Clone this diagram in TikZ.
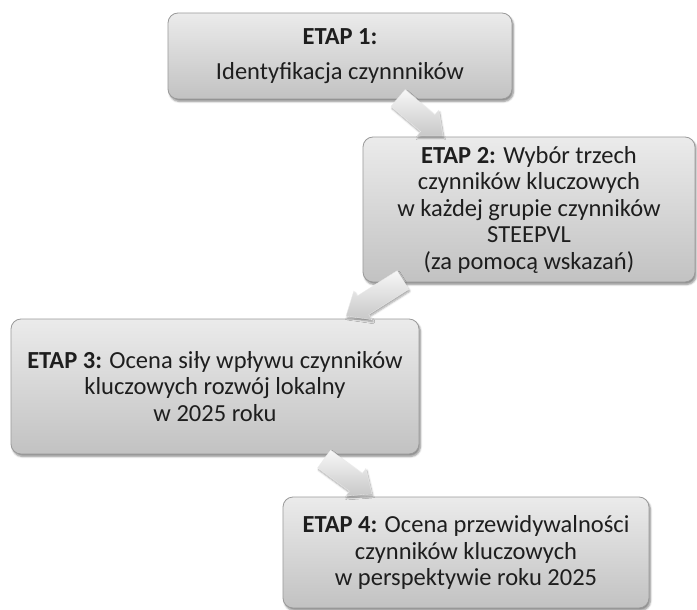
\documentclass[tikz,border=0pt]{standalone}
\usepackage{fontspec}
\setmainfont{Carlito}
\usetikzlibrary{calc,shadows.blur}
\definecolor{txt}{HTML}{1E1E1E}
\definecolor{btop}{HTML}{EBEBEB}
\definecolor{bbot}{HTML}{C2C2C2}
\definecolor{bline}{HTML}{9A9A9A}
\definecolor{atop}{HTML}{F7F7F7}
\definecolor{abot}{HTML}{C8C8C8}
\tikzset{
 stepbox/.style={draw=bline, line width=0.8pt, rounded corners=10pt,
   top color=btop, bottom color=bbot, align=center, text=txt,
   font=\fontsize{24.5}{26.5}\selectfont, inner sep=0pt,
   blur shadow={shadow xshift=1.5pt, shadow yshift=-2.5pt, shadow blur steps=6, shadow opacity=45}},
 blockarr/.style={draw=white!85!gray, line width=0.3pt, top color=atop, bottom color=abot,
   blur shadow={shadow xshift=1pt, shadow yshift=-2pt, shadow blur steps=5, shadow opacity=35}}
}
\newcommand{\blkarrow}[2]{%
 \coordinate (#1-b) at ($(#2)!20pt!(#1)$);
 \path[blockarr] ($(#1)!11pt!90:(#2)$) -- ($(#1-b)!11pt!90:(#2)$) -- ($(#1-b)!17pt!90:(#2)$)
   -- (#2) -- ($(#1-b)!17pt!-90:(#2)$) -- ($(#1-b)!11pt!-90:(#2)$) -- ($(#1)!11pt!-90:(#2)$) -- cycle;}
\begin{document}
\begin{tikzpicture}[x=1pt,y=-1pt]
\useasboundingbox (0,0) rectangle (697,610);
\node[stepbox, minimum width=344pt, minimum height=86pt] (b1) at (340,56)
  {\textbf{ETAP 1:}\\[8pt]Identyfikacja czynnników};
\node[stepbox, minimum width=332pt, minimum height=145pt] (b2) at (529,209.5)
  {\textbf{ETAP 2:} Wybór trzech\\czynników kluczowych\\w każdej grupie czynników\\STEEPVL\\(za pomocą wskazań)};
\node[stepbox, minimum width=408pt, minimum height=135pt] (b3) at (215,386.5)
  {\textbf{ETAP 3:} Ocena siły wpływu czynników\\kluczowych rozwój lokalny\\w 2025 roku};
\node[stepbox, minimum width=366pt, minimum height=111pt] (b4) at (466,552.5)
  {\textbf{ETAP 4:} Ocena przewidywalności\\czynników kluczowych\\w perspektywie roku 2025};
\coordinate (t1) at (398,98);  \coordinate (h1) at (443,136);
\coordinate (t2) at (403,280); \coordinate (h2) at (346,316);
\coordinate (t3) at (324,459); \coordinate (h3) at (372,494);
\blkarrow{t1}{h1}
\blkarrow{t2}{h2}
\blkarrow{t3}{h3}
\end{tikzpicture}
\end{document}
